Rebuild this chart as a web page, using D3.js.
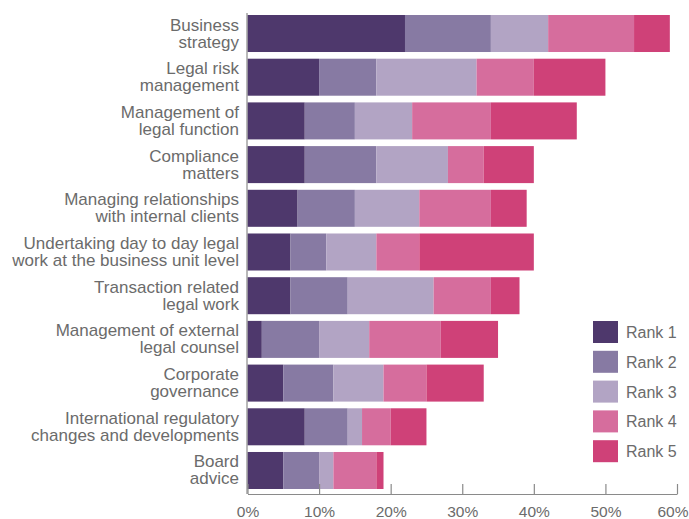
<!DOCTYPE html>
<html>
<head>
<meta charset="utf-8">
<script src="https://cdn.jsdelivr.net/npm/d3@7"></script>
<style>
    body { margin: 0; background: #fff; }
    svg { display: block; font-family: "Liberation Sans", Arial, sans-serif; }
</style>
</head>
<body>
<svg id="chart"></svg>
<script>
"use strict";

const width = 689;
const height = 519;

// data (percent per rank)
const categories = [
    ["Business", "strategy"],
    ["Legal risk", "management"],
    ["Management of", "legal function"],
    ["Compliance", "matters"],
    ["Managing relationships", "with internal clients"],
    ["Undertaking day to day legal", "work at the business unit level"],
    ["Transaction related", "legal work"],
    ["Management of external", "legal counsel"],
    ["Corporate", "governance"],
    ["International regulatory", "changes and developments"],
    ["Board", "advice"]
];
const rank1 = [22, 10, 8, 8, 7, 6, 6, 2, 5, 8, 5];
const rank2 = [12, 8, 7, 10, 8, 5, 8, 8, 7, 6, 5];
const rank3 = [8, 14, 8, 10, 9, 7, 12, 7, 7, 2, 2];
const rank4 = [12, 8, 11, 5, 10, 6, 8, 10, 6, 4, 6];
const rank5 = [5, 10, 12, 7, 5, 16, 4, 8, 8, 5, 1];
const series_names = ["Rank 1", "Rank 2", "Rank 3", "Rank 4", "Rank 5"];
const tick_values = [0, 10, 20, 30, 40, 50, 60];

const colors = ["#4e386c", "#877aa3", "#b2a4c4", "#d66d9d", "#cf4178"];
const text_color = "#6b6b6b";
const axis_color = "#8a8a8a";

const x0 = 247.5;
const x1 = 677;
const axis_y = 494;

const svg = d3.select("#chart")
    .attr("width", width)
    .attr("height", height);

const keys = categories.map(d => d.join(" "));

const table = keys.map((k, i) => ({
    key: k,
    "Rank 1": rank1[i],
    "Rank 2": rank2[i],
    "Rank 3": rank3[i],
    "Rank 4": rank4[i],
    "Rank 5": rank5[i]
}));

const stacked = d3.stack().keys(series_names)(table);

const x = d3.scaleLinear()
    .domain([0, 60])
    .range([x0, x1]);

const y = d3.scaleBand()
    .domain(keys)
    .range([15, 489])
    .paddingInner(0.153)
    .paddingOuter(0);

// bars
svg.append("g")
    .selectAll("g")
    .data(stacked)
    .enter()
    .append("g")
    .attr("fill", (d, i) => colors[i])
    .selectAll("rect")
    .data(d => d)
    .enter()
    .append("rect")
    .attr("x", d => x(d[0]))
    .attr("width", d => x(d[1]) - x(d[0]))
    .attr("y", d => y(d.data.key))
    .attr("height", y.bandwidth());

// left axis line
svg.append("line")
    .attr("x1", x0 - 0.5).attr("x2", x0 - 0.5)
    .attr("y1", 13).attr("y2", axis_y)
    .attr("stroke", axis_color)
    .attr("stroke-width", 1.2);

// bottom axis
const xAxis = d3.axisBottom(x)
    .tickValues(tick_values)
    .tickFormat(d => d + "%")
    .tickSize(-10)
    .tickSizeOuter(0)
    .tickPadding(12);

const gx = svg.append("g")
    .attr("transform", `translate(0, ${axis_y})`)
    .call(xAxis);

gx.select(".domain").attr("stroke", axis_color).attr("stroke-width", 1.2);
gx.selectAll(".tick line").attr("stroke", axis_color).attr("stroke-width", 1.2);
gx.selectAll(".tick text")
    .attr("fill", text_color)
    .style("font-size", "15.5px")
    .style("font-family", "'Liberation Sans', Arial, sans-serif");

// last label pulled in so it stays inside the picture
gx.selectAll(".tick text")
    .filter(d => d === 60)
    .attr("text-anchor", "end")
    .attr("x", width - x1 - 1);

// category labels
const labels = svg.append("g")
    .selectAll("text")
    .data(categories)
    .enter()
    .append("text")
    .attr("text-anchor", "end")
    .attr("fill", text_color)
    .style("font-size", "17px");

labels.selectAll("tspan")
    .data((d, i) => d.map((line, j) => ({ line: line, j: j, key: keys[i] })))
    .enter()
    .append("tspan")
    .attr("x", 239)
    .attr("y", d => y(d.key) + y.bandwidth() / 2 + (d.j === 0 ? -3 : 14))
    .text(d => d.line);

// legend
const legend = svg.append("g")
    .selectAll("g")
    .data(series_names)
    .enter()
    .append("g")
    .attr("transform", (d, i) => `translate(593, ${321 + i * 29.8})`);

legend.append("rect")
    .attr("width", 25)
    .attr("height", 22)
    .attr("fill", (d, i) => colors[i]);

legend.append("text")
    .attr("x", 33)
    .attr("y", 17)
    .attr("fill", text_color)
    .style("font-size", "16px")
    .text(d => d);
</script>
</body>
</html>
